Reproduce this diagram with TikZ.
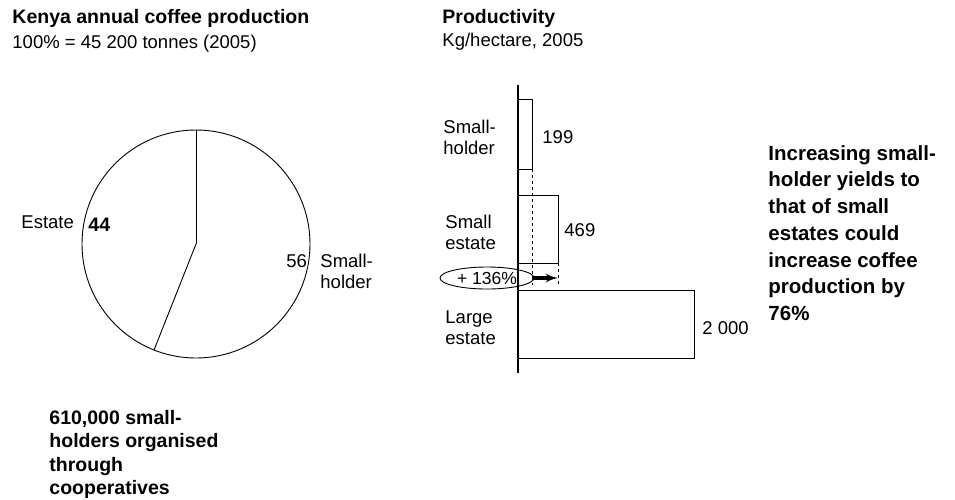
\documentclass[tikz,border=0pt]{standalone}
\usepackage{fontspec}
\setmainfont{Liberation Sans}
\usepackage{tikz}
\usetikzlibrary{positioning,shapes.geometric}
\usetikzlibrary{shapes,arrows}
\tikzstyle{txt} = [inner sep=0pt, anchor=west, align=left,
    font=\fontsize{18.5}{21}\selectfont]
\tikzstyle{bold} = [txt, font=\fontsize{19.5}{23.5}\selectfont\bfseries]
\tikzstyle{bar} = [rectangle, draw, inner sep=0pt, outer sep=0pt,
    anchor=north west]
\tikzstyle{line} = [draw, line width=3.2pt, -latex']
\tikzstyle{guide} = [draw, dashed, line width=0.7pt]

\begin{document}
\begin{tikzpicture}[x=1pt, y=-1pt, line width=0.9pt]
    \useasboundingbox (0,0) rectangle (955,499);
    % Headings
    \node [txt, font=\fontsize{18.5}{25}\selectfont] (kenya) at (12,30.5)
        {{\fontsize{19.5}{25}\selectfont\bfseries Kenya annual coffee production}\\100\% = 45 200 tonnes (2005)};
    \node [txt, font=\fontsize{18.5}{23}\selectfont] (prod) at (442,29.5)
        {{\fontsize{19.5}{23}\selectfont\bfseries Productivity}\\Kg/hectare, 2005};
    % Pie
    \coordinate (pc) at (196,244);
    \draw (pc) circle [radius=114pt];
    \draw (pc) -- ++(90:114pt);
    \draw (pc) -- ++(248.4:114pt);
    \node [txt] (estate) at (21,222) {Estate};
    \node [bold] (e44) at (88,225) {44};
    \node [txt] (s56) at (286,261) {56};
    \node [txt] (pieholder) at (320,271.5) {Small-\\holder};
    % Bars
    \node [bar, minimum width=14pt, minimum height=70pt] (b1) at (518,99) {};
    \node [bar, minimum width=40pt, minimum height=68pt] (b2) at (518,195) {};
    \node [bar, minimum width=176pt, minimum height=68pt] (b3) at (518,290) {};
    \coordinate (axtop) at (518,85);
    \coordinate (axbot) at (518,373);
    \draw [line width=2.8pt] (axtop) -- (axbot);
    \node [txt, right=10pt of b1, yshift=-3pt] (v1) {199};
    \node [txt, right=6pt of b2, yshift=-1pt] (v2) {469};
    \node [txt, right=8pt of b3, yshift=-4pt] (v3) {2 000};
    \node [txt] (c1) at (443,137.5) {Small-\\holder};
    \node [txt] (c2) at (445,232.5) {Small\\estate};
    \node [txt] (c3) at (445,327.5) {Large\\estate};
    % Gap
    \node [ellipse, draw, minimum width=94pt, minimum height=22pt, inner sep=0pt,
        font=\fontsize{17.5}{21}\selectfont] (pct) at (487,278) {+ 136\%};
    \coordinate (dlev) at (0,285);
    \path [guide] (b1.south east) -- (b1.south east |- dlev);
    \path [guide] (b2.south east) -- (b2.south east |- dlev);
    \path [line] (b1.south east |- pct) -- (b2.south east |- pct);
    % Notes
    \node [bold, font=\fontsize{20.5}{26.7}\selectfont\bfseries] (concl) at (768,233)
        {Increasing small-\\holder yields to\\that of small\\estates could\\increase coffee\\production by\\76\%};
    \node [bold] (coop) at (49,454.5)
        {610,000 small-\\holders organised\\through\\cooperatives};
\end{tikzpicture}
\end{document}
